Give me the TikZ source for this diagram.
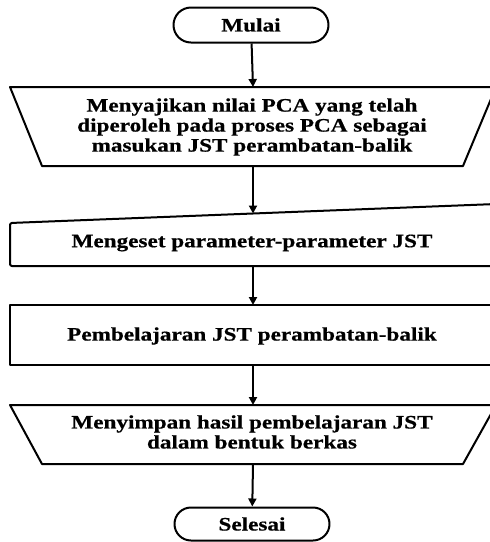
\documentclass[tikz,border=0pt]{standalone}
\usepackage{fontspec}
\setmainfont[FakeStretch=1.22,BoldFeatures={FakeBold=0.6}]{Liberation Serif}
\usetikzlibrary{arrows.meta,shapes.misc}
\begin{document}
\begin{tikzpicture}[x=1pt,y=-1pt,line join=round,
  outline/.style={draw,line width=2pt},
  term/.style={outline,rounded rectangle,minimum width=155pt,minimum height=35pt,inner sep=0pt},
  lbl/.style={font=\bfseries\fontsize{19}{20}\selectfont,align=center,inner sep=0pt},
  arr/.style={-{Triangle[length=8pt,width=8pt]},line width=2pt}]
\useasboundingbox (0,0) rectangle (490,542);
% start
\node[term,lbl] (start) at (251,25) {Mulai};
% trapezium 1
\draw[outline] (10,87) -- (496,87) -- (463,166) -- (42,166) -- cycle;
\coordinate (t1n) at (253,87);
\coordinate (t1s) at (253,166);
\node[lbl] (t1) at (252,127) {Menyajikan nilai PCA yang telah\\diperoleh pada proses PCA sebagai\\masukan JST perambatan-balik};
% manual input
\draw[outline,rounded corners=2pt] (10,223) -- (496,204) -- (496,266) -- (10,266) -- cycle;
\coordinate (m1n) at (253,213.5);
\coordinate (m1s) at (253,266);
\node[lbl] (m1) at (252,243) {Mengeset parameter-parameter JST};
% process
\draw[outline] (10,305) rectangle (496,365);
\coordinate (p1n) at (253,305);
\coordinate (p1s) at (253,365);
\node[lbl] (p1) at (252,336) {Pembelajaran JST perambatan-balik};
% trapezium 2
\draw[outline] (10,405) -- (496,405) -- (463,464) -- (42,464) -- cycle;
\coordinate (t2n) at (253,405);
\coordinate (t2s) at (253,464);
\node[lbl] (t2) at (252,432) {Menyimpan hasil pembelajaran JST\\dalam bentuk berkas};
% end
\node[term,lbl,minimum height=33pt] (stop) at (252,524) {Selesai};
% arrows
\draw[arr] (start) -- (t1n);
\draw[arr] (t1s) -- (m1n);
\draw[arr] (m1s) -- (p1n);
\draw[arr] (p1s) -- (t2n);
\draw[arr] (t2s) -- (stop);
\end{tikzpicture}
\end{document}
